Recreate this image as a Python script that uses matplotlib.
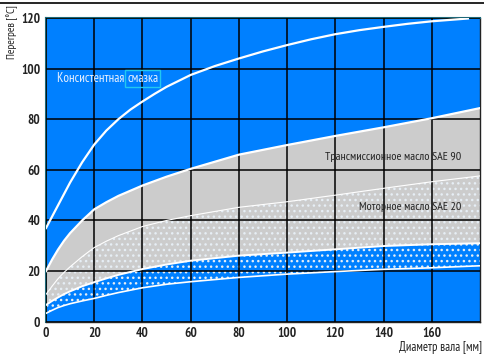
import matplotlib
matplotlib.use("Agg")
import matplotlib.pyplot as plt
from matplotlib.lines import Line2D

plt.rcParams['font.family'] = ['PT Sans Narrow', 'DejaVu Sans']
plt.rcParams['hatch.linewidth'] = 1.0

# ---- data ----
x_grease = [0, 2.5, 5, 7.5, 10, 12.5, 15, 17.5, 20, 25, 30, 35, 40, 45, 50, 60, 70, 80, 90,
            100, 110, 120, 130, 140, 150, 160, 175]
y_grease = [37, 41.5, 46, 50.5, 55, 59, 63, 66.5, 70, 75.5, 80, 83.8, 87, 90, 92.8, 97.5, 101, 104, 106.8,
            109.3, 111.6, 113.6, 115.2, 116.5, 117.7, 118.7, 119.8]

x_band = [0, 2.5, 5, 7.5, 10, 15, 20, 25, 30, 40, 50, 60, 80, 100, 120, 140, 160, 180]
gear_top = [20, 24.5, 28.5, 32, 35, 40, 44.4, 47.2, 49.7, 53.8, 57.3, 60.4, 66, 69.8, 73.4, 76.8, 80.4, 84.4]
gear_bottom = [6.6, 8.2, 9.6, 10.9, 12, 14, 15.6, 17.1, 18.5, 20.8, 22.6, 24.1, 26.1, 27.3, 28.6, 29.9, 30.6, 31]
motor_top = [10.8, 14, 17, 19.5, 21.7, 25.7, 29.3, 31.8, 34, 37.6, 40, 41.9, 45.2, 47.4, 50, 52.7, 55.3, 57.6]
motor_bottom = [3.3, 4.5, 5.6, 6.4, 7.1, 8.2, 9.2, 10.4, 11.5, 13.4, 14.8, 15.8, 17.5, 18.8, 19.8, 20.7, 21.3, 22.1]

x_ticks = [0, 20, 40, 60, 80, 100, 120, 140, 160]
y_ticks = [0, 20, 40, 60, 80, 100, 120]

label_grease_a = "Консистентная "
label_grease_b = "смазка"
label_gear = "Трансмиссионное масло SAE 90"
label_motor = "Моторное масло SAE 20"
xlabel = "Диаметр вала [мм]"
ylabel = "Перегрев [°C]"

BLUE = "#0080ff"
GRAY = "#cccccc"

fig = plt.figure(figsize=(4.85, 3.56), dpi=100)
ax = fig.add_axes([46/485, 1-321.7/356, (480-46)/485, (321.7-18)/356])
ax.set_facecolor(BLUE)
ax.set_xlim(0, 180)
ax.set_ylim(0, 120)

ax.fill_between(x_band, gear_bottom, gear_top, facecolor=GRAY, edgecolor="none", zorder=1)
ax.fill_between(x_band, motor_bottom, motor_top, facecolor="none", edgecolor="#e6eef5",
                hatch="...", linewidth=0, zorder=1.2)

ax.set_axisbelow(False)
ax.grid(True, color="black", linewidth=1.1)

ax.plot(x_band, gear_top, color="white", lw=1.6, zorder=3)
ax.plot(x_band, gear_bottom, color="white", lw=1.4, zorder=3)
ax.plot(x_band, motor_top, color="white", lw=0.8, zorder=3)
ax.plot(x_band, motor_bottom, color="white", lw=1.2, zorder=3)
ax.plot(x_grease, y_grease, color="white", lw=1.6, zorder=3)

ax.set_xticks(x_ticks)
ax.set_yticks(y_ticks)
ax.tick_params(length=0, labelsize=9.5, pad=4)
for lab in ax.get_xticklabels() + ax.get_yticklabels():
    lab.set_fontweight("bold")
    lab.set_color("#222222")

for s in ["left", "top"]:
    ax.spines[s].set_color("#1d6878")
    ax.spines[s].set_linewidth(1.5)
for s in ["right", "bottom"]:
    ax.spines[s].set_color("#222222")
    ax.spines[s].set_linewidth(1.0)

t1 = ax.text(4.6, 96.2, label_grease_a, color="#e8f0ff", fontsize=9.3, va="center", ha="left", zorder=4)
ax.annotate(label_grease_b, xy=(1, 0.5), xycoords=t1, va="center", ha="left",
            color="#e8f0ff", fontsize=9.3, zorder=4,
            bbox=dict(boxstyle="square,pad=0.15", facecolor="none", edgecolor="#22c8f0", linewidth=1))

ax.text(172.2, 65, label_gear, color="#222222", fontsize=8.6, ha="right", va="center", zorder=4)
ax.text(172.2, 45.2, label_motor, color="#222222", fontsize=8.6, ha="right", va="center", zorder=4)

fig.text(0.995, 1-348/356, xlabel, ha="right", va="center", fontsize=9, color="#222222")
fig.text(12/485, 1-32/356, ylabel, ha="center", va="center", rotation=90, fontsize=8, color="#222222")

fig.add_artist(Line2D([0, 1], [1-3/356, 1-3/356], color="black", lw=1.2))

fig.savefig("out.png", dpi=100)
